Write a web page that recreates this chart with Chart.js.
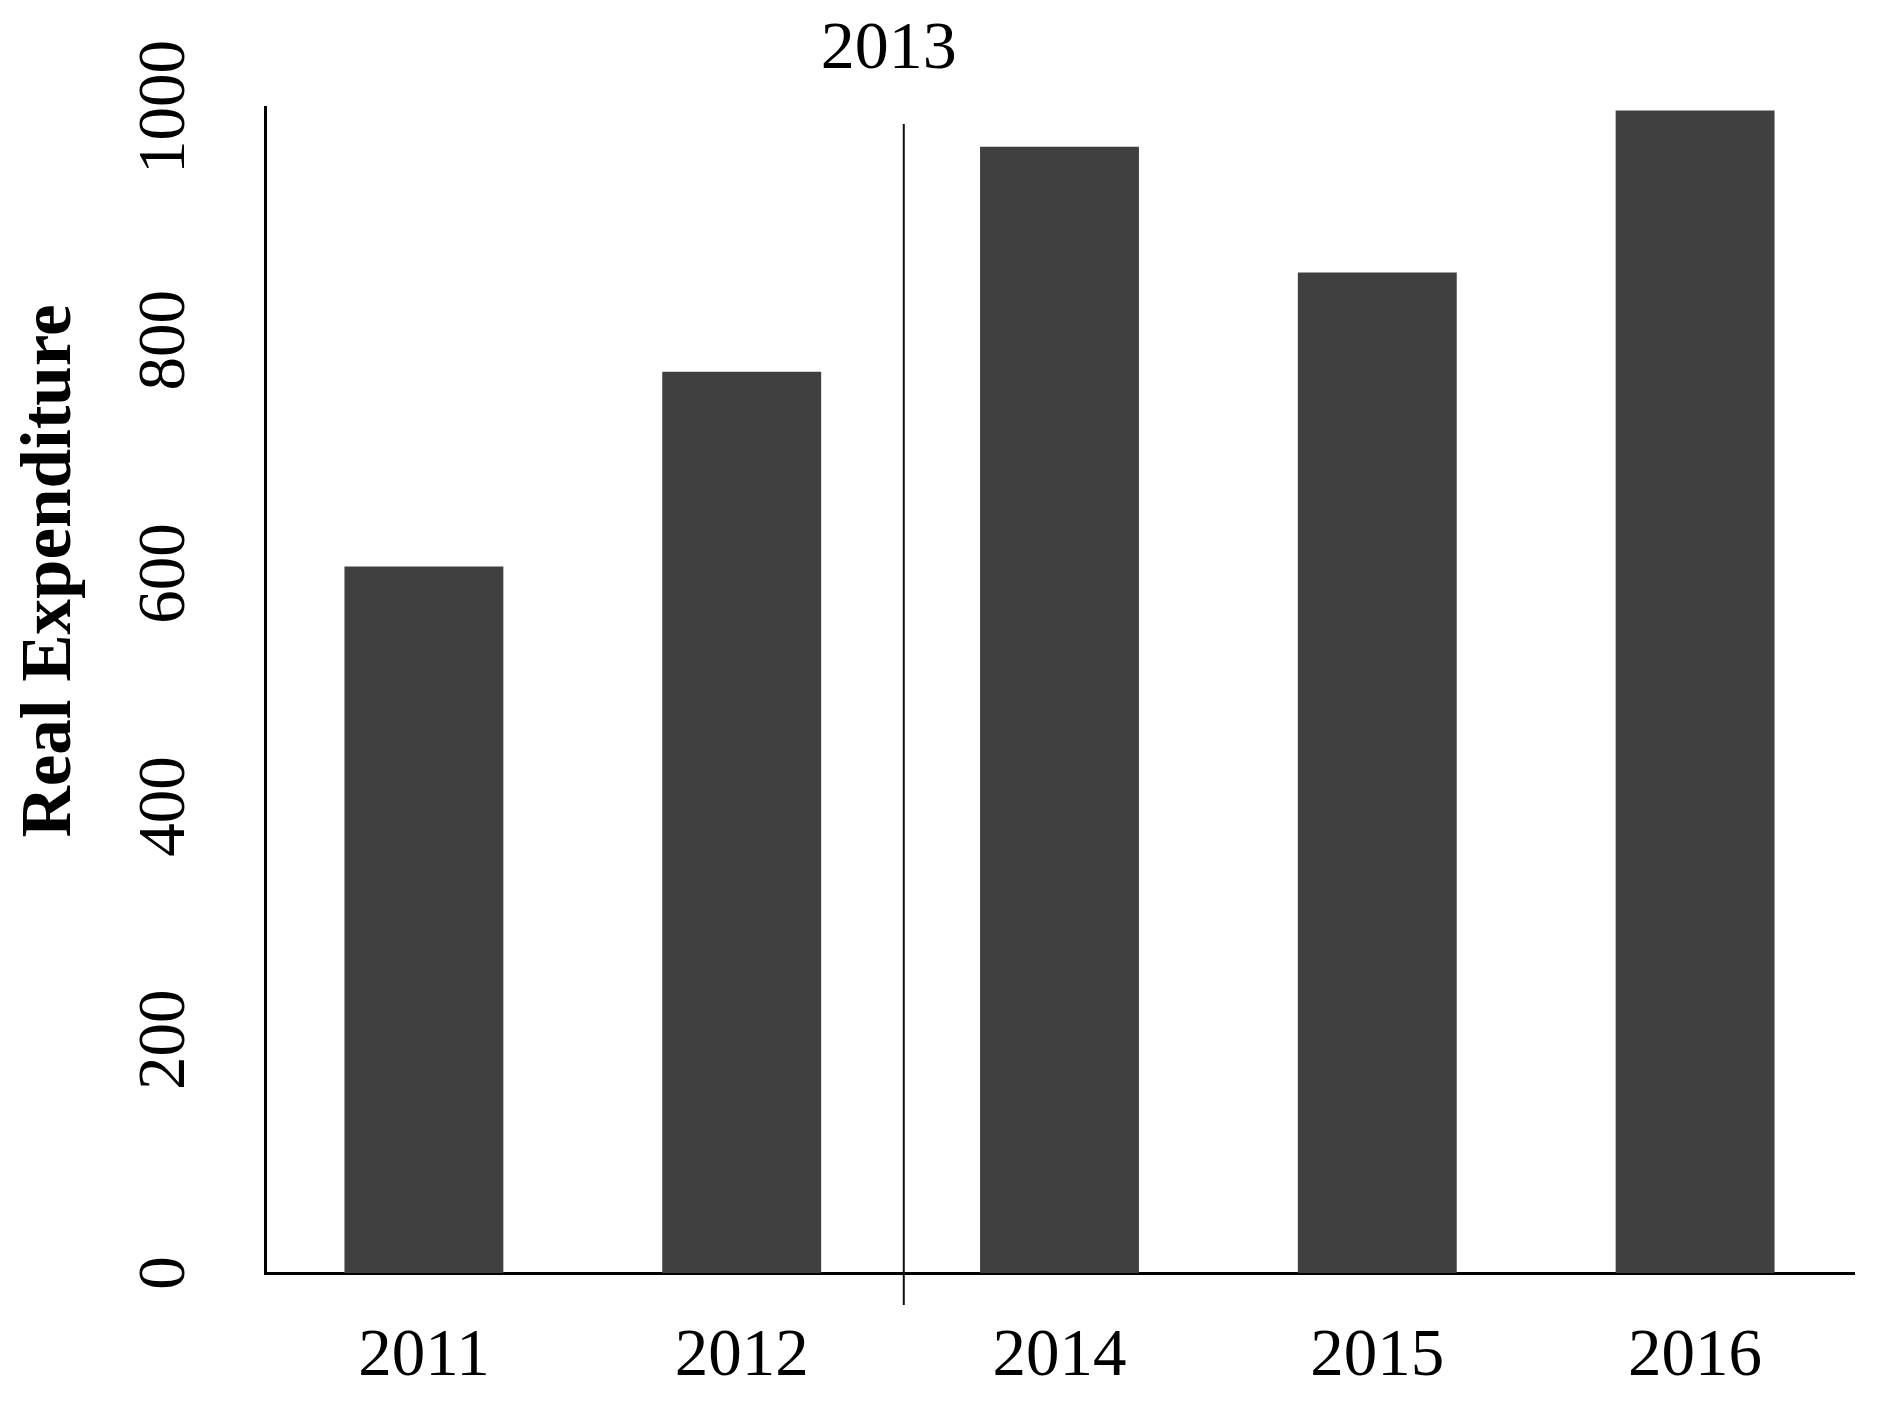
<!DOCTYPE html>
<html>
<head>
<meta charset="utf-8">
<script src="https://cdn.jsdelivr.net/npm/chart.js@4.4.1/dist/chart.umd.min.js"></script>
<style>
  html, body { margin: 0; padding: 0; background: #fff; }
  #wrap { width: 1878px; height: 1402px; position: relative; }
</style>
</head>
<body>
<div id="wrap"><canvas id="chart"></canvas></div>
<script>
/* Real expenditure by year, bar chart with a 2013 break marker. */

const years = ["2011", "2012", "2014", "2015", "2016"];
const expenditure = [606, 773, 966, 858, 997];
const yTicks = [0, 200, 400, 600, 800, 1000];
const breakLabel = "2013";
const breakAt = 1.51; // between 2012 and 2014 (category index)
const yTitle = "Real Expenditure";

const SERIF = "'Liberation Serif', 'Times New Roman', serif";
const INK = "#000";
const BAR = "#404040";

/* Break line, its label, and the left axis title. */
const extras = {
  id: "extras",
  afterDraw(chart) {
    const { ctx, chartArea, scales } = chart;
    const x = scales.x.getPixelForValue(breakAt);
    ctx.save();
    ctx.strokeStyle = "#111";
    ctx.lineWidth = 2;
    ctx.beginPath();
    ctx.moveTo(x, chartArea.top + 17);
    ctx.lineTo(x, chartArea.bottom + 32);
    ctx.stroke();

    ctx.fillStyle = INK;
    ctx.font = `68px ${SERIF}`;
    ctx.textAlign = "center";
    ctx.textBaseline = "middle";
    ctx.fillText(breakLabel, x - 15, 50);

    ctx.font = `bold 71px ${SERIF}`;
    ctx.translate(70, 571);
    ctx.rotate(-Math.PI / 2);
    ctx.textBaseline = "alphabetic";
    ctx.fillText(yTitle, 0, 0);
    ctx.restore();
  },
};

new Chart(document.getElementById("chart"), {
  type: "bar",
  data: {
    labels: years,
    datasets: [{
      data: expenditure,
      backgroundColor: BAR,
      borderWidth: 0,
      categoryPercentage: 1,
      barPercentage: 0.5,
    }],
  },
  options: {
    animation: false,
    responsive: true,
    maintainAspectRatio: false,
    layout: { padding: { top: 107, right: 24, bottom: 0, left: 0 } },
    plugins: { legend: { display: false }, tooltip: { enabled: false } },
    scales: {
      x: {
        grid: { display: false, drawTicks: false },
        border: { color: INK, width: 3 },
        ticks: { color: INK, font: { family: SERIF, size: 67 }, padding: 44 },
        afterFit(s) { s.height = 129; },
      },
      y: {
        min: 0,
        max: 1000,
        afterBuildTicks(s) { s.ticks = yTicks.map((v) => ({ value: v })); },
        grid: { display: false, drawTicks: false },
        border: { color: INK, width: 3 },
        ticks: {
          color: INK,
          font: { family: SERIF, size: 67 },
          minRotation: 90,
          maxRotation: 90,
          crossAlign: "center",
          padding: 32,
          callback: (v) => String(v),
        },
        afterFit(s) { s.width = 265; },
      },
    },
  },
  plugins: [extras],
});
</script>
</body>
</html>
